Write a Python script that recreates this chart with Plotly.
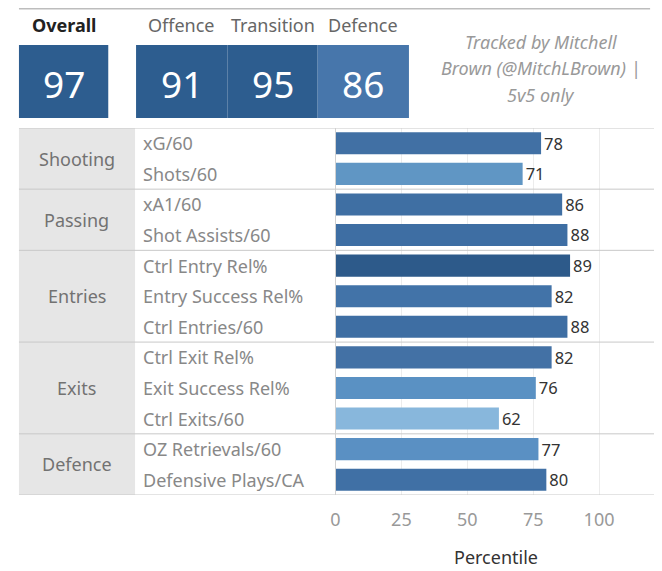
import plotly.graph_objects as go

# ---- data ----
header_labels = ["Overall", "Offence", "Transition", "Defence"]
header_values = [97, 91, 95, 86]
credit_lines = ["Tracked by Mitchell", "Brown (@MitchLBrown) |", "5v5 only"]

groups = ["Shooting", "Passing", "Entries", "Exits", "Defence"]
group_sizes = [2, 2, 3, 3, 2]
metrics = ["xG/60", "Shots/60", "xA1/60", "Shot Assists/60",
           "Ctrl Entry Rel%", "Entry Success Rel%", "Ctrl Entries/60",
           "Ctrl Exit Rel%", "Exit Success Rel%", "Ctrl Exits/60",
           "OZ Retrievals/60", "Defensive Plays/CA"]
percentiles = [78, 71, 86, 88, 89, 82, 88, 82, 76, 62, 77, 80]
axis_ticks = [0, 25, 50, 75, 100]
axis_title = "Percentile"

# ---- styles ----
bar_colors = ["#4170a4", "#6096c4", "#3f6fa3", "#3e6ea3", "#2d5a8a", "#4273a8",
              "#3e6ea3", "#4371a5", "#5a91c3", "#88b7dc", "#5a90c3", "#4070a5"]
header_colors = ["#2d5d8f", "#2d5d8f", "#2d5d8f", "#4776ab"]
FONT = "Noto Sans"
OFF = 8                      # page body margin
W, H = 662 - OFF, 571 - OFF


def px(x):
    return (x - OFF) / W


def py(y):
    return 1 - (y - OFF) / H


fig = go.Figure()
fig.add_trace(go.Bar(
    x=percentiles, y=list(range(len(metrics))), orientation="h",
    marker=dict(color=bar_colors, line=dict(width=0)),
    width=0.72, text=[str(v) for v in percentiles], textposition="outside",
    textfont=dict(family=FONT, size=18, color="#333333"),
    cliponaxis=False, hoverinfo="skip",
))

shapes = []
annotations = []

# top rule
shapes.append(dict(type="line", xref="paper", yref="paper", x0=px(14), x1=px(650),
                   y0=py(8.8), y1=py(8.8), line=dict(color="#bdbdbd", width=1.5)))

# header boxes
box_x = [(14, 104), (132, 224), (224, 315), (315, 407)]
for (x0, x1), lab, val, col, i in zip(box_x, header_labels, header_values, header_colors, range(4)):
    shapes.append(dict(type="rect", xref="paper", yref="paper", x0=px(x0), x1=px(x1),
                       y0=py(118), y1=py(45), fillcolor=col, line=dict(width=0), layer="below"))
    annotations.append(dict(xref="paper", yref="paper", x=px((x0 + x1) / 2), y=py(25),
                            text=("<b>%s</b>" % lab) if i == 0 else lab, showarrow=False,
                            font=dict(family=FONT, size=18, color="#222222" if i == 0 else "#666666"),
                            xanchor="center", yanchor="middle"))
    annotations.append(dict(xref="paper", yref="paper", x=px((x0 + x1) / 2), y=py(83),
                            text=str(val), showarrow=False,
                            font=dict(family=FONT, size=37, color="white"),
                            xanchor="center", yanchor="middle"))

for line, yy in zip(credit_lines, [42, 68, 95]):
    annotations.append(dict(xref="paper", yref="paper", x=px(540), y=py(yy),
                            text="<i>%s</i>" % line, showarrow=False,
                            font=dict(family=FONT, size=18, color="#999999"),
                            xanchor="center", yanchor="middle"))

# table
n = len(metrics)
shapes.append(dict(type="rect", xref="paper", yref="y", x0=px(14), x1=px(131),
                   y0=-0.5, y1=n - 0.5, fillcolor="#e6e6e6", line=dict(width=0), layer="below"))
sep_color = "#c8c8c8"
shapes.append(dict(type="line", xref="paper", yref="y", x0=px(14), x1=px(657),
                   y0=-0.5, y1=-0.5, line=dict(color=sep_color, width=1)))
start = 0
for g, s in zip(groups, group_sizes):
    end = start + s
    shapes.append(dict(type="line", xref="paper", yref="y", x0=px(14), x1=px(657),
                       y0=end - 0.5, y1=end - 0.5, line=dict(color=sep_color, width=1)))
    annotations.append(dict(xref="paper", yref="y", x=px(72), y=(start + end - 1) / 2,
                            text=g, showarrow=False,
                            font=dict(family=FONT, size=18, color="#727272"),
                            xanchor="center", yanchor="middle"))
    start = end
shapes.append(dict(type="line", xref="paper", yref="y", x0=px(657), x1=px(657),
                   y0=-0.5, y1=n - 0.5, line=dict(color="#d6d6d6", width=1)))
shapes.append(dict(type="line", xref="paper", yref="y", x0=px(333), x1=px(333),
                   y0=-0.5, y1=n - 0.5, line=dict(color="#d0d0d0", width=1)))

for i, m in enumerate(metrics):
    annotations.append(dict(xref="paper", yref="y", x=px(137), y=i, text=m, showarrow=False,
                            font=dict(family=FONT, size=18, color="#888888"),
                            xanchor="left", yanchor="middle"))

annotations.append(dict(xref="paper", yref="paper", x=px(495), y=py(557), text=axis_title,
                        showarrow=False, font=dict(family=FONT, size=18, color="#333333"),
                        xanchor="center", yanchor="middle"))

fig.update_layout(
    width=W, height=H, margin=dict(l=0, r=0, t=0, b=0),
    paper_bgcolor="white", plot_bgcolor="white", showlegend=False,
    shapes=shapes, annotations=annotations, hovermode=False,
    xaxis=dict(domain=[px(333), px(657)], range=[0, 122], tickvals=axis_ticks,
               ticktext=[str(t) for t in axis_ticks], showgrid=True, gridcolor="#ececec",
               gridwidth=1, zeroline=False, showline=False, ticks="",
               tickfont=dict(family=FONT, size=18, color="#999999"), ticklabelstandoff=12,
               fixedrange=True),
    yaxis=dict(domain=[py(495), py(128)], range=[n - 0.5, -0.5], showticklabels=False,
               showgrid=False, zeroline=False, showline=False, ticks="", fixedrange=True),
)

fig.write_html("out.html")
